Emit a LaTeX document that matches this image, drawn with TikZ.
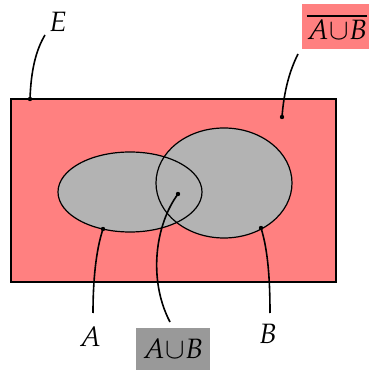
\documentclass[tikz,border=0pt]{standalone}
\usepackage{amsmath, amssymb}
\usepackage{mathpazo}
\usepackage{tikz}

\definecolor{rosa}{HTML}{FF8080}
\definecolor{gris}{HTML}{B3B3B3}
\definecolor{grisfosc}{HTML}{999999}

\begin{document}
\begin{tikzpicture}[x=1pt, y=1pt,
    etiq/.style={font=\fontsize{28}{32}\selectfont, inner sep=1pt},
    fil/.style={line width=1.6pt}]
    \useasboundingbox (0,0) rectangle (369,370);
    % Univers E
    \draw[fill=rosa, line width=1.4pt] (11,88) rectangle (336,271);
    % Conjunts A i B
    \fill[gris] (130,178) ellipse (72pt and 40pt);
    \fill[gris] (224,187) ellipse (68pt and 55pt);
    \draw[line width=1.2pt] (130,178) ellipse (72pt and 40pt);
    \draw[line width=1.2pt] (224,187) ellipse (68pt and 55pt);
    % Punts d'on surten les etiquetes
    \coordinate (pE) at (30,271);
    \coordinate (pNo) at (282,253);
    \coordinate (pA) at (103,141);
    \coordinate (pB) at (261,142);
    \coordinate (pAiB) at (178,176);
    \foreach \p in {pE, pNo, pA, pB, pAiB}
        \fill (\p) circle (2.2pt);
    % Etiquetes
    \node[etiq] (E) at (58,348) {$E$};
    \node[etiq] (A) at (90,33) {$A$};
    \node[etiq] (B) at (268,36) {$B$};
    \node[etiq, fill=grisfosc, minimum width=74pt, minimum height=42pt] (AiB) at (173,21) {$A{\cup}B$};
    \node[etiq, fill=rosa, minimum width=70pt, minimum height=45pt] (NoAiB) at (337,343) {$\overline{A{\cup}B}$};
    % Extrems de les linies
    \coordinate (fE) at (45,335);
    \coordinate (fNo) at (298,316);
    \coordinate (fA) at (93,57);
    \coordinate (fB) at (270,57);
    \coordinate (fAiB) at (170,48);
    \draw[fil] (pE) .. controls (31,300) and (36,320) .. (fE);
    \draw[fil] (pNo) .. controls (284,280) and (290,300) .. (fNo);
    \draw[fil] (pA) .. controls (96,120) and (93,90) .. (fA);
    \draw[fil] (pB) .. controls (268,120) and (270,90) .. (fB);
    \draw[fil] (pAiB) .. controls (155,145) and (148,90) .. (fAiB);
\end{tikzpicture}
\end{document}
